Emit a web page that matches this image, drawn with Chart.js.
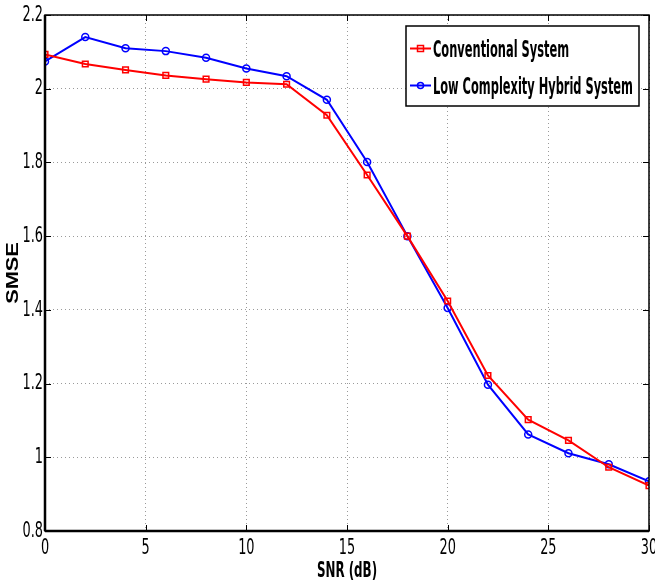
<!DOCTYPE html>
<html>
<head>
<meta charset="utf-8">
<script src="https://cdn.jsdelivr.net/npm/chart.js@4.4.1/dist/chart.umd.min.js"></script>
<style>
  html, body { margin: 0; padding: 0; background: #fff; }
  #wrap { width: 655px; height: 584px; }
</style>
</head>
<body>
<div id="wrap"><canvas id="c" width="655" height="584"></canvas></div>
<script>
const snr = [0, 2, 4, 6, 8, 10, 12, 14, 16, 18, 20, 22, 24, 26, 28, 30];
const conventional = [2.093, 2.067, 2.051, 2.036, 2.026, 2.017, 2.012, 1.928, 1.766, 1.600, 1.424, 1.222, 1.102, 1.046, 0.973, 0.923];
const hybrid = [2.074, 2.140, 2.110, 2.102, 2.084, 2.055, 2.034, 1.970, 1.801, 1.600, 1.405, 1.197, 1.062, 1.011, 0.981, 0.935];
const seriesNames = ['Conventional System', 'Low Complexity Hybrid System'];
const xTicks = [0, 5, 10, 15, 20, 25, 30];
const yTicks = [0.8, 1.0, 1.2, 1.4, 1.6, 1.8, 2.0, 2.2];

const FONT = "'DejaVu Sans Condensed', 'Liberation Sans', Arial, sans-serif";
const FONT_Y = "'Liberation Sans', Arial, sans-serif";

// Horizontal text compression (the reference uses a tall, narrow typeface)
const canvas = document.getElementById('c');
const ctx0 = canvas.getContext('2d');
const stretch = { '22': 0.65, 'b22': 0.6, 'b17': 1.28 };
const origFillText = ctx0.fillText.bind(ctx0);
ctx0.fillText = function (text, x, y, maxWidth) {
  const f = this.font;
  const m = f.match(/(\d+(?:\.\d+)?)px/);
  const key = (/bold|700/.test(f) ? 'b' : '') + (m ? Math.round(parseFloat(m[1])) : '');
  const sx = stretch[key] || 1;
  if (sx === 1) { return maxWidth !== undefined ? origFillText(text, x, y, maxWidth) : origFillText(text, x, y); }
  this.save();
  this.translate(x, y);
  this.scale(sx, 1);
  origFillText(text, 0, 0);
  this.restore();
};

const boxPlugin = {
  id: 'boxPlugin',
  afterDraw(chart) {
    const ctx = chart.ctx;
    const a = chart.chartArea;
    const xs = chart.scales.x, ys = chart.scales.y;
    ctx.save();
    ctx.strokeStyle = '#000';
    ctx.lineWidth = 1;
    const tl = 6;
    ctx.beginPath();
    xTicks.forEach(v => {
      const px = Math.round(xs.getPixelForValue(v)) + 0.5;
      ctx.moveTo(px, a.bottom); ctx.lineTo(px, a.bottom - tl);
      ctx.moveTo(px, a.top); ctx.lineTo(px, a.top + tl);
    });
    yTicks.forEach(v => {
      const py = Math.round(ys.getPixelForValue(v)) + 0.5;
      ctx.moveTo(a.left, py); ctx.lineTo(a.left + tl, py);
      ctx.moveTo(a.right, py); ctx.lineTo(a.right - tl, py);
    });
    ctx.stroke();
    ctx.lineWidth = 1.5;
    ctx.strokeRect(a.left, a.top, a.right - a.left, a.bottom - a.top);
    ctx.lineWidth = 2.5;
    ctx.beginPath();
    ctx.moveTo(a.left, a.bottom); ctx.lineTo(a.right, a.bottom);
    ctx.moveTo(a.left, a.top); ctx.lineTo(a.left, a.bottom);
    ctx.stroke();

    // legend
    const lx = 406, ly = 26, lw = 233, lh = 80;
    ctx.fillStyle = '#fff';
    ctx.fillRect(lx, ly, lw, lh);
    ctx.lineWidth = 1.5;
    ctx.strokeStyle = '#000';
    ctx.strokeRect(lx, ly, lw, lh);
    const rows = [48.5, 85.5];
    ctx.font = "bold 23px " + FONT;
    const longest = Math.max(...chart.data.datasets.map(d => ctx.measureText(d.label).width));
    const fit = 200 / longest;
    chart.data.datasets.forEach((ds, i) => {
      const y = rows[i];
      ctx.strokeStyle = ds.borderColor;
      ctx.lineWidth = 2;
      ctx.beginPath(); ctx.moveTo(410, y); ctx.lineTo(431, y); ctx.stroke();
      ctx.lineWidth = 1.5;
      if (ds.pointStyle === 'rect') {
        ctx.strokeRect(417.5, y - 3, 6, 6);
      } else {
        ctx.beginPath(); ctx.arc(420.5, y, 3, 0, Math.PI * 2); ctx.stroke();
      }
      ctx.fillStyle = '#000';
      ctx.font = "bold 23px " + FONT;
      ctx.textBaseline = 'alphabetic';
      ctx.textAlign = 'left';
      ctx.save();
      ctx.translate(433, y + 8);
      ctx.scale(fit, 1);
      ctx.fillText(ds.label, 0, 0);
      ctx.restore();
    });
    ctx.restore();
  }
};

new Chart(canvas, {
  type: 'line',
  data: {
    datasets: [
      {
        label: seriesNames[0],
        data: snr.map((x, i) => ({ x: x, y: conventional[i] })),
        borderColor: '#ff0000',
        backgroundColor: 'rgba(0,0,0,0)',
        borderWidth: 2,
        pointStyle: 'rect',
        pointRadius: 4,
        pointBorderWidth: 1.5,
        pointBorderColor: '#ff0000',
        pointBackgroundColor: 'rgba(0,0,0,0)',
        tension: 0
      },
      {
        label: seriesNames[1],
        data: snr.map((x, i) => ({ x: x, y: hybrid[i] })),
        borderColor: '#0000ff',
        backgroundColor: 'rgba(0,0,0,0)',
        borderWidth: 2,
        pointStyle: 'circle',
        pointRadius: 3.5,
        pointBorderWidth: 1.5,
        pointBorderColor: '#0000ff',
        pointBackgroundColor: 'rgba(0,0,0,0)',
        tension: 0
      }
    ]
  },
  options: {
    responsive: false,
    animation: false,
    devicePixelRatio: 1,
    layout: { padding: { left: 0, top: 15, right: 6, bottom: 0 } },
    plugins: { legend: { display: false }, tooltip: { enabled: false } },
    scales: {
      x: {
        type: 'linear', min: 0, max: 30,
        afterBuildTicks(s) { s.ticks = xTicks.map(v => ({ value: v })); },
        afterFit(s) { s.height = 53; s.paddingLeft = 0; s.paddingRight = 0; },
        grid: { color: '#9a9a9a', lineWidth: 1, drawTicks: false },
        border: { display: false, dash: [1, 3] },
        ticks: { color: '#000', font: { family: FONT, size: 22 }, padding: 4, maxRotation: 0, autoSkip: false },
        title: { display: true, text: 'SNR (dB)', color: '#000', font: { family: FONT, size: 22, weight: 'bold' }, padding: { top: 0, bottom: 0 } }
      },
      y: {
        type: 'linear', min: 0.8, max: 2.2,
        afterBuildTicks(s) { s.ticks = yTicks.map(v => ({ value: v })); },
        afterFit(s) { s.width = 45; s.paddingTop = 0; s.paddingBottom = 0; },
        grid: { color: '#9a9a9a', lineWidth: 1, drawTicks: false },
        border: { display: false, dash: [1, 3] },
        ticks: {
          color: '#000', font: { family: FONT, size: 22 }, padding: 2,
          callback: v => (Math.abs(v - 1) < 1e-9 ? '1' : (Math.round(v * 10) / 10).toString())
        },
        title: { display: true, text: 'SMSE', color: '#000', font: { family: FONT_Y, size: 17, weight: 'bold' }, padding: { top: 3, bottom: 0 } }
      }
    }
  },
  plugins: [boxPlugin]
});
</script>
</body>
</html>
